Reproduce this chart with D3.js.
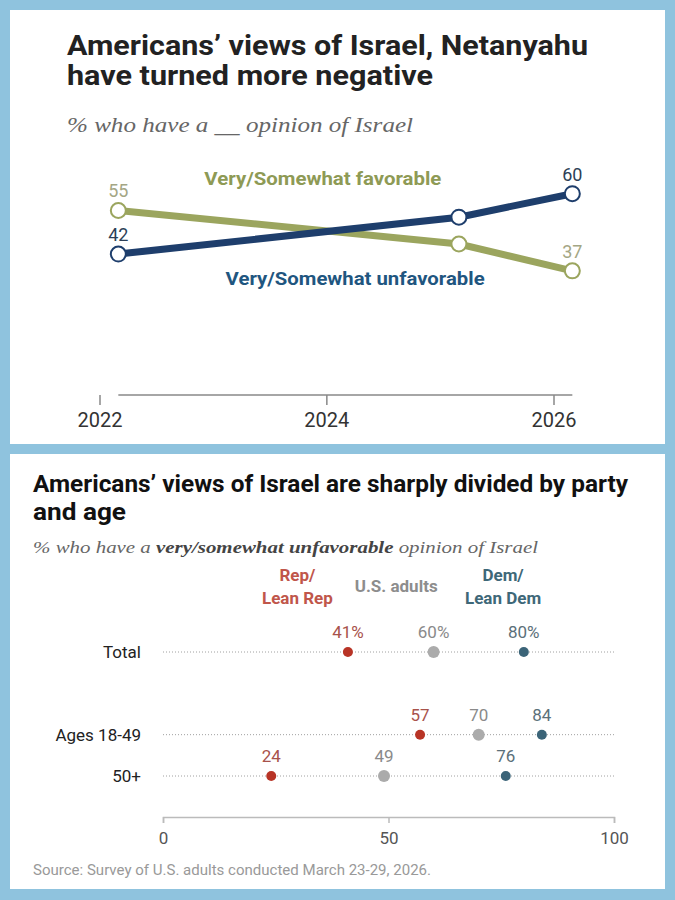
<!DOCTYPE html>
<html>
<head>
<meta charset="utf-8">
<script src="https://cdn.jsdelivr.net/npm/d3@7/dist/d3.min.js"></script>
<style>
  body { margin: 0; background: #8fc3de; }
  svg { display: block; }
  text { font-family: 'Liberation Sans Narrow', 'Roboto', sans-serif; }
  .serif { font-family: 'Liberation Serif', 'DejaVu Serif', serif; font-style: italic; }
</style>
</head>
<body>
<svg id="chart"></svg>
<script>
// --- top chart data
const surveyDates = ['2022-03-01', '2025-03-01', '2026-03-01'];
const favorable = [55, 45, 37];
const unfavorable = [42, 53, 60];
const yearTicks = [2022, 2024, 2026];

// --- bottom chart data
const groups = ['Total', 'gap', 'Ages 18-49', '50+'];
const rowLabels = ['Total', '', 'Ages 18-49', '50+'];
const repValues = [41, null, 57, 24];
const adultValues = [60, null, 70, 49];
const demValues = [80, null, 84, 76];
const axisTicks = [0, 50, 100];

const W = 675, H = 900;
const svg = d3.select('#chart').attr('width', W).attr('height', H);

// fit a text element to a width
const fit = (sel, w) => sel.attr('textLength', w).attr('lengthAdjust', 'spacingAndGlyphs');

// panels
svg.append('rect').attr('x', 10).attr('y', 10).attr('width', 655).attr('height', 434).attr('fill', '#fff');
svg.append('rect').attr('x', 10).attr('y', 454).attr('width', 655).attr('height', 435).attr('fill', '#fff');

/* ================= TOP: line chart ================= */
const topG = svg.append('g');

fit(topG.append('text').attr('x', 67).attr('y', 55)
    .attr('font-size', 28).attr('font-weight', 700).attr('fill', '#222')
    .text('Americans\u2019 views of Israel, Netanyahu'), 521);
fit(topG.append('text').attr('x', 67).attr('y', 85)
    .attr('font-size', 28).attr('font-weight', 700).attr('fill', '#222')
    .text('have turned more negative'), 366);
fit(topG.append('text').attr('class', 'serif').attr('x', 67).attr('y', 132)
    .attr('font-size', 21).attr('fill', '#666')
    .text('% who have a __ opinion of Israel'), 346);

const parse = d3.timeParse('%Y-%m-%d');
const dates = surveyDates.map(parse);

const x = d3.scaleTime()
    .domain([new Date(2022, 0, 1), new Date(2026, 0, 1)])
    .range([100, 554]);
const y = d3.scaleLinear().domain([0, 100]).range([395, 59.5]);

// axis
topG.append('line')
    .attr('x1', x(dates[0])).attr('x2', x(dates[dates.length - 1]))
    .attr('y1', y(0)).attr('y2', y(0))
    .attr('stroke', '#888').attr('stroke-width', 1.5);

const xTicks = topG.selectAll('g.xtick')
    .data(yearTicks)
    .enter()
    .append('g')
        .attr('class', 'xtick')
        .attr('transform', d => `translate(${x(new Date(d, 0, 1))},${y(0)})`);
xTicks.append('line').attr('y2', 10).attr('stroke', '#888').attr('stroke-width', 1.5);
xTicks.append('text')
    .attr('y', 32).attr('text-anchor', 'middle')
    .attr('font-size', 20).attr('fill', '#333')
    .attr('font-family', 'Roboto, sans-serif')
    .text(d => d);

const series = [
    { key: 'fav', values: favorable, color: '#9ba55e', labelColor: '#a4a684' },
    { key: 'unfav', values: unfavorable, color: '#1e3e6c', labelColor: '#2d3f56' }
];

const line = d3.line()
    .x((d, i) => x(dates[i]))
    .y(d => y(d));

series.forEach(s => {
    topG.append('path')
        .attr('d', line(s.values))
        .attr('fill', 'none')
        .attr('stroke', s.color)
        .attr('stroke-width', 7);
});

series.forEach(s => {
    topG.selectAll(`circle.${s.key}`)
        .data(s.values)
        .enter()
        .append('circle')
            .attr('class', s.key)
            .attr('cx', (d, i) => x(dates[i]))
            .attr('cy', d => y(d))
            .attr('r', 7.5)
            .attr('fill', '#fff')
            .attr('stroke', s.color)
            .attr('stroke-width', 2);

    const last = s.values.length - 1;
    topG.selectAll(`text.${s.key}`)
        .data(s.values.map((v, i) => ({ v, i })).filter(d => d.i === 0 || d.i === last))
        .enter()
        .append('text')
            .attr('class', s.key)
            .attr('x', d => x(dates[d.i]))
            .attr('y', d => y(d.v) - 13)
            .attr('text-anchor', 'middle')
            .attr('font-size', 18)
            .attr('font-family', 'Roboto, sans-serif')
            .attr('fill', s.labelColor)
            .text(d => d.v);
});

fit(topG.append('text')
    .attr('x', x(new Date(2024, 0, 1)) - 4).attr('y', y(62.5))
    .attr('text-anchor', 'middle')
    .attr('font-size', 19).attr('font-weight', 700).attr('fill', '#8e9a55')
    .text('Very/Somewhat favorable'), 237);
fit(topG.append('text')
    .attr('x', x(new Date(2024, 3, 1))).attr('y', y(32.8))
    .attr('text-anchor', 'middle')
    .attr('font-size', 19).attr('font-weight', 700).attr('fill', '#1f5680')
    .text('Very/Somewhat unfavorable'), 259);

/* ================= BOTTOM: dot plot ================= */
const bot = svg.append('g');

fit(bot.append('text').attr('x', 33).attr('y', 492)
    .attr('font-size', 24).attr('font-weight', 700).attr('fill', '#111')
    .text('Americans\u2019 views of Israel are sharply divided by party'), 595);
fit(bot.append('text').attr('x', 33).attr('y', 520)
    .attr('font-size', 24).attr('font-weight', 700).attr('fill', '#111')
    .text('and age'), 93);

const sub = bot.append('text').attr('class', 'serif').attr('x', 33).attr('y', 553)
    .attr('font-size', 17).attr('fill', '#666');
sub.append('tspan').text('% who have a ');
sub.append('tspan').attr('font-weight', 700).attr('fill', '#444').text('very/somewhat unfavorable');
sub.append('tspan').text(' opinion of Israel');
fit(sub, 505);

const x2 = d3.scaleLinear().domain([0, 100]).range([163, 614]);
const yRow = d3.scalePoint().domain(groups).range([652, 776]);

const cols = [
    { name: ['Rep/', 'Lean Rep'], values: repValues, pos: 29.8, head: '#c0564a', dot: '#b83426', label: '#a8524b', r: 5 },
    { name: ['U.S. adults'], values: adultValues, pos: 51.7, head: '#8d8d8d', dot: '#ababab', label: '#8a8a8a', r: 6 },
    { name: ['Dem/', 'Lean Dem'], values: demValues, pos: 75.4, head: '#3e6878', dot: '#3b6478', label: '#5b7079', r: 5 }
];

// headers
cols.forEach(c => {
    const t = bot.append('text')
        .attr('x', x2(c.pos))
        .attr('y', c.name.length > 1 ? 581 : 592)
        .attr('text-anchor', 'middle')
        .attr('font-size', 17).attr('font-weight', 700).attr('fill', c.head);
    c.name.forEach((n, i) => {
        t.append('tspan').attr('x', x2(c.pos)).attr('dy', i ? 23 : 0).text(n);
    });
});

const rows = groups.filter(g => g !== 'gap');

// row labels
bot.selectAll('text.rowlabel')
    .data(rows)
    .enter()
    .append('text')
        .attr('class', 'rowlabel')
        .attr('x', 141)
        .attr('y', d => yRow(d) + 6)
        .attr('text-anchor', 'end')
        .attr('font-size', 17).attr('fill', '#222')
        .text(d => rowLabels[groups.indexOf(d)]);

// dotted guide lines
bot.selectAll('line.guide')
    .data(rows)
    .enter()
    .append('line')
        .attr('class', 'guide')
        .attr('x1', x2(0)).attr('x2', x2(100) + 2)
        .attr('y1', d => yRow(d)).attr('y2', d => yRow(d))
        .attr('stroke', '#a0a0a0').attr('stroke-width', 1)
        .attr('stroke-dasharray', '1,2');

cols.forEach(c => {
    const pts = groups.map((g, i) => ({ g, v: c.values[i] })).filter(d => d.v != null);
    bot.selectAll(null)
        .data(pts)
        .enter()
        .append('circle')
            .attr('cx', d => x2(d.v))
            .attr('cy', d => yRow(d.g))
            .attr('r', c.r)
            .attr('fill', c.dot);
    bot.selectAll(null)
        .data(pts)
        .enter()
        .append('text')
            .attr('x', d => x2(d.v))
            .attr('y', d => yRow(d.g) - 14)
            .attr('text-anchor', 'middle')
            .attr('font-size', 17)
            .attr('font-family', 'Roboto, sans-serif')
            .attr('fill', c.label)
            .text(d => d.g === 'Total' ? d.v + '%' : d.v);
});

// x axis
const xAxis = bot.append('g')
    .attr('transform', 'translate(0,817)')
    .call(d3.axisBottom(x2).tickValues(axisTicks).tickSize(6).tickPadding(9));
xAxis.select('.domain').attr('stroke', '#bbb').attr('stroke-width', 1.5);
xAxis.selectAll('.tick line').attr('stroke', '#bbb').attr('stroke-width', 1.5);
xAxis.selectAll('.tick text')
    .attr('font-size', 17).attr('fill', '#555')
    .attr('font-family', 'Roboto, sans-serif');

fit(bot.append('text').attr('x', 33).attr('y', 875)
    .attr('font-size', 14).attr('fill', '#999')
    .text('Source: Survey of U.S. adults conducted March 23-29, 2026.'), 398);
</script>
</body>
</html>
